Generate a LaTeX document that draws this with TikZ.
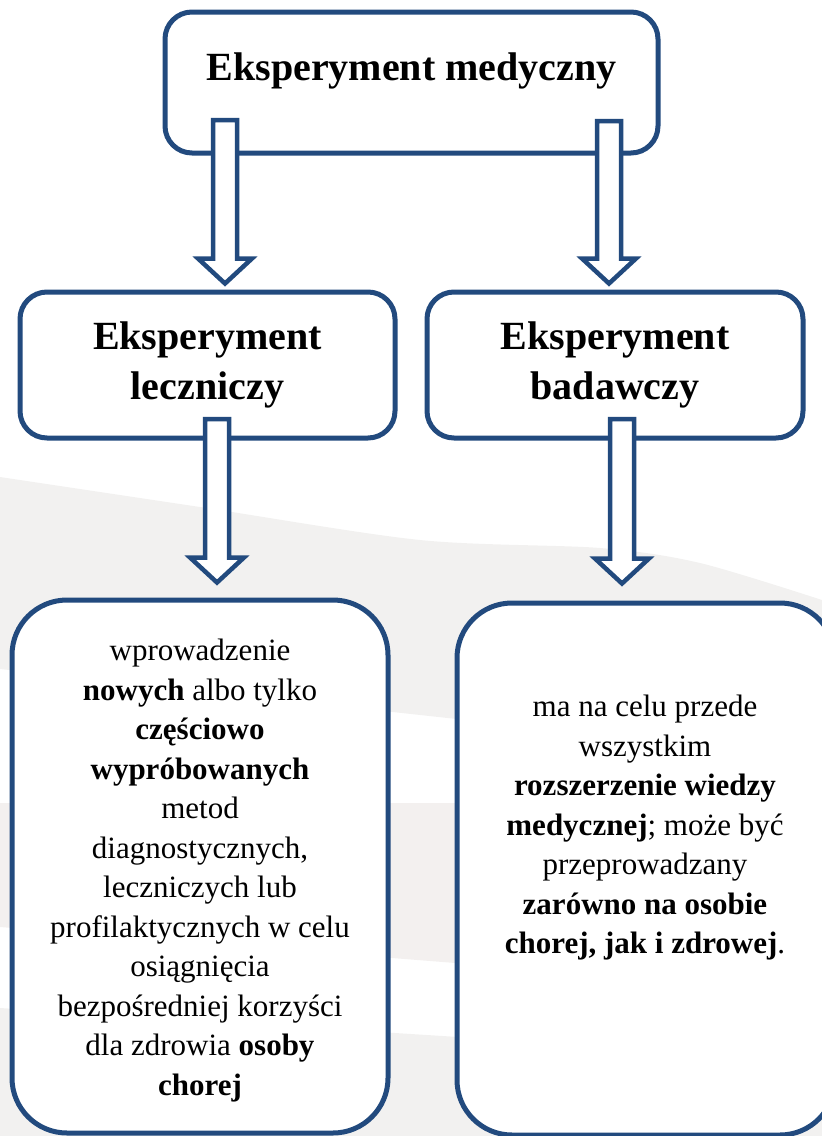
\documentclass[tikz,border=0pt]{standalone}
\usepackage{fontspec}
\setmainfont{Liberation Serif}
\usetikzlibrary{calc}

\definecolor{boxblue}{RGB}{34,74,126}
\definecolor{swoosh}{RGB}{242,241,240}
\definecolor{swooshb}{RGB}{243,240,239}

\tikzset{
	box/.style={draw=boxblue, line width=5pt, fill=white, rounded corners=27pt},
	bigbox/.style={box, rounded corners=55pt},
	headtxt/.style={font=\fontsize{40}{50}\selectfont\bfseries, align=center},
	bodytxt/.style={font=\fontsize{31}{39.5}\selectfont, align=center, inner sep=0pt, anchor=north},
	arrowline/.style={draw=boxblue, line width=4.5pt, fill=white}
}

% hollow block arrow from #1 down to tip #2
\newcommand{\blockarrow}[2]{%
	\draw[arrowline] let \p1=(#1), \p2=(#2) in
	(\x1-12pt,\y1) -- (\x1+12pt,\y1) -- (\x1+12pt,\y2+25pt)
	-- (\x1+27pt,\y2+25pt) -- (\x1,\y2) -- (\x1-27pt,\y2+25pt)
	-- (\x1-12pt,\y2+25pt) -- cycle;%
}

\begin{document}
\begin{tikzpicture}[x=1pt,y=-1pt]
	\useasboundingbox (0,0) rectangle (822,1136);
	
	% background
	\fill[swoosh] plot[smooth] coordinates {(0,477) (200,507) (420,540) (600,548) (700,563) (822,600)}
	-- (822,759) -- (0,669) -- cycle;
	\fill[swooshb] (0,803) -- (822,803) -- (822,992) -- (0,927) -- cycle;
	\fill[swoosh] (0,1008) -- (822,1060) -- (822,1136) -- (0,1136) -- cycle;
	
	% boxes
	\node[box, minimum width=493pt, minimum height=141pt] (medyczny) at (411.5,82.5) {};
	\node[headtxt, anchor=base] (medyczny-txt) at (411.5,80) {Eksperyment medyczny};
	
	\node[box, headtxt, minimum width=375pt, minimum height=146pt] (lecz) at (207.5,365) {Eksperyment\\leczniczy};
	\node[box, headtxt, minimum width=376pt, minimum height=146pt] (bad) at (615,365) {Eksperyment\\badawczy};
	
	\node[bigbox, minimum width=376pt, minimum height=533pt] (lecz-opis) at (200,866.5) {};
	\node[bigbox, minimum width=378pt, minimum height=532pt] (bad-opis) at (646,869) {};
	
	\node[bodytxt] (lecz-txt) at (200,639) {wprowadzenie\\
		\textbf{nowych} albo tylko\\
		\textbf{częściowo}\\
		\textbf{wypróbowanych}\\
		metod\\
		diagnostycznych,\\
		leczniczych lub\\
		profilaktycznych w celu\\
		osiągnięcia\\
		bezpośredniej korzyści\\
		dla zdrowia \textbf{osoby}\\
		\textbf{chorej}};
	
	\node[bodytxt] (bad-txt) at (645,695) {ma na celu przede\\
		wszystkim\\
		\textbf{rozszerzenie wiedzy}\\
		\textbf{medycznej}; może być\\
		przeprowadzany\\
		\textbf{zarówno na osobie}\\
		\textbf{chorej, jak i zdrowej}.};
	
	% arrows
	\coordinate (s1) at (225,120);
	\coordinate (s2) at (609,121);
	\coordinate (s3) at (217,419);
	\coordinate (s4) at (622,419);
	
	\blockarrow{s1}{$(s1 |- lecz.north)+(0,-6)$}
	\blockarrow{s2}{$(s2 |- bad.north)+(0,-6)$}
	\blockarrow{s3}{$(s3 |- lecz-opis.north)+(0,-15)$}
	\blockarrow{s4}{$(s4 |- bad-opis.north)+(0,-17)$}
	
\end{tikzpicture}
\end{document}
